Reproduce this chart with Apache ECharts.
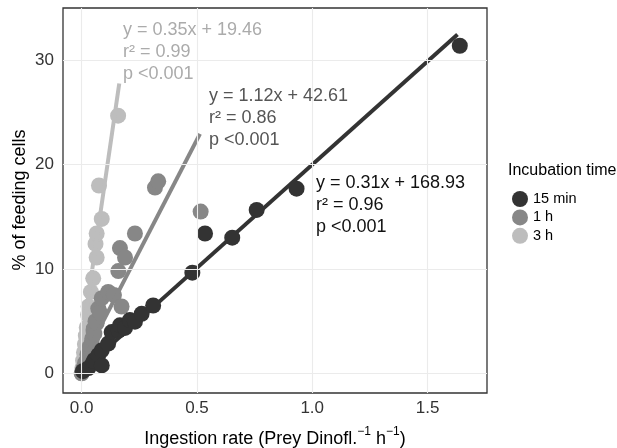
<!DOCTYPE html>
<html><head><meta charset="utf-8">
<script src="https://cdn.jsdelivr.net/npm/echarts@6/dist/echarts.min.js"></script>
<style>html,body{margin:0;padding:0;background:#fff}#c{width:617px;height:448px}</style>
</head><body><div id="c"></div>
<script>
const seriesNames = ['15 min', '1 h', '3 h'];
const pts15min = [[0.005,0.2],[0.029,0.5],[0.05,1.2],[0.072,1.75],[0.087,0.75],[0.087,2.2],[0.115,2.85],[0.13,3.95],[0.16,4.1],[0.166,4.6],[0.188,4.35],[0.209,5.1],[0.231,4.95],[0.26,5.7],[0.31,6.5],[0.48,9.65],[0.535,13.4],[0.653,13.0],[0.759,15.66],[0.932,17.7],[1.64,31.4]];
const pts1h = [[0.0,0.0],[0.008,0.5],[0.015,1.0],[0.02,1.0],[0.025,1.8],[0.03,1.8],[0.035,2.6],[0.04,2.6],[0.045,3.3],[0.05,4.2],[0.055,3.8],[0.06,5.0],[0.065,4.8],[0.072,6.2],[0.08,5.8],[0.087,7.2],[0.115,7.8],[0.14,7.5],[0.159,9.8],[0.173,6.4],[0.166,12.0],[0.188,11.1],[0.231,13.4],[0.318,17.8],[0.332,18.4],[0.516,15.5]];
const pts3h = [[0.0,0.0],[0.003,0.5],[0.006,1.2],[0.01,2.0],[0.014,2.8],[0.018,3.6],[0.022,4.4],[0.028,5.6],[0.03,6.4],[0.04,7.8],[0.05,9.1],[0.065,11.1],[0.06,12.4],[0.065,13.4],[0.087,14.8],[0.075,18.0],[0.158,24.7]];
const fitSlope = [19.8, 42.8, 152];
const fitIntercept = [0.2, 1.0, 3.0];
const fitXStart = [0.01, 0.005, 0.0];
const fitXEnd = [1.63, 0.513, 0.163];
const xTicks = [0, 0.5, 1.0, 1.5];
const yTicks = [0, 10, 20, 30];
const annotations = [
  ['y = 0.31x + 168.93', 'r\u00B2 = 0.96', 'p <0.001'],
  ['y = 1.12x + 42.61', 'r\u00B2 = 0.86', 'p <0.001'],
  ['y = 0.35x + 19.46', 'r\u00B2 = 0.99', 'p <0.001']
];
const legendTitle = 'Incubation time';
const yTitle = '% of feeding cells';

const pointColors = ['#333333', '#878787', '#bdbdbd'];
const textColors = ['#111111', '#555555', '#ababab'];
const annoPos = [[316, 172], [209, 85], [123, 19]];
const FONT = '"Liberation Sans", Arial, Helvetica, sans-serif';
const allPts = [pts15min, pts1h, pts3h];

const chart = echarts.init(document.getElementById('c'), null, {renderer: 'canvas'});

const series = [];
series.push({
  type: 'line', data: [], z: 1, silent: true,
  markLine: {
    silent: true, symbol: ['none', 'none'], animation: false,
    label: {show: false},
    lineStyle: {color: '#ebebeb', width: 1.1, type: 'solid'},
    emphasis: {disabled: true},
    data: xTicks.map(v => ({xAxis: v})).concat(yTicks.map(v => ({yAxis: v})))
  }
});
[2, 1, 0].forEach(i => {
  series.push({
    name: seriesNames[i], type: 'scatter', z: 2,
    data: allPts[i], symbol: 'circle', symbolSize: 16,
    itemStyle: {color: pointColors[i], opacity: 1},
    emphasis: {disabled: true}, animation: false
  });
});
[0, 1, 2].forEach(i => {
  const xs = [fitXStart[i], fitXEnd[i]];
  series.push({
    name: 'fit ' + seriesNames[i], type: 'line', z: 3,
    data: xs.map(x => [x, fitIntercept[i] + fitSlope[i] * x]),
    showSymbol: false, symbol: 'none',
    lineStyle: {color: pointColors[i], width: 4, cap: 'butt'},
    emphasis: {disabled: true}, animation: false
  });
});

const graphics = [];
annotations.forEach((lines, i) => {
  graphics.push({
    type: 'text', left: annoPos[i][0], top: annoPos[i][1], z: 10,
    style: {text: lines.join('\n'), font: '18px ' + FONT, fill: textColors[i], lineHeight: 22}
  });
});
graphics.push({
  type: 'text', x: 20, y: 200, rotation: Math.PI / 2, z: 10,
  style: {text: yTitle, font: '18px ' + FONT, fill: '#000', align: 'center', verticalAlign: 'middle'}
});
graphics.push({
  type: 'text', x: 275, y: 437, z: 10,
  style: {
    text: '{a|Ingestion rate (Prey Dinofl.}{s|\u22121}{a| h}{s|\u22121}{a|)}',
    align: 'center', verticalAlign: 'middle',
    rich: {
      a: {fontSize: 18, fontFamily: FONT, fill: '#000', lineHeight: 22, verticalAlign: 'bottom'},
      s: {fontSize: 12, fontFamily: FONT, fill: '#000', lineHeight: 22, verticalAlign: 'top'}
    }
  }
});
graphics.push({
  type: 'text', left: 508, top: 163, z: 10,
  style: {text: legendTitle, font: '16px ' + FONT, fill: '#000'}
});

chart.setOption({
  animation: false,
  backgroundColor: '#fff',
  grid: {left: 63, top: 8, right: 130, bottom: 55, show: true, borderColor: '#333333', borderWidth: 1.3, backgroundColor: '#fff'},
  xAxis: {
    type: 'value', min: -0.081, max: 1.758,
    axisLine: {show: false},
    axisTick: {show: true, length: 5, lineStyle: {color: '#333'}, customValues: xTicks},
    axisLabel: {show: true, customValues: xTicks, margin: 7, fontSize: 17, fontFamily: FONT, color: '#333',
      formatter: v => Number(v).toFixed(1)},
    splitLine: {show: false}
  },
  yAxis: {
    type: 'value', min: -1.89, max: 35.02,
    axisLine: {show: false},
    axisTick: {show: true, length: 5, lineStyle: {color: '#333'}, customValues: yTicks},
    axisLabel: {show: true, customValues: yTicks, margin: 9, fontSize: 17, fontFamily: FONT, color: '#333',
      formatter: v => String(Math.round(v))},
    splitLine: {show: false}
  },
  legend: {
    orient: 'vertical', left: 507, top: 186,
    data: seriesNames, icon: 'circle', itemWidth: 16, itemHeight: 16, itemGap: 2.4,
    selectedMode: false,
    textStyle: {fontSize: 14.5, fontFamily: FONT, color: '#000', padding: [0, 0, 0, 0]}
  },
  graphic: graphics,
  series: series
});
</script></body></html>
